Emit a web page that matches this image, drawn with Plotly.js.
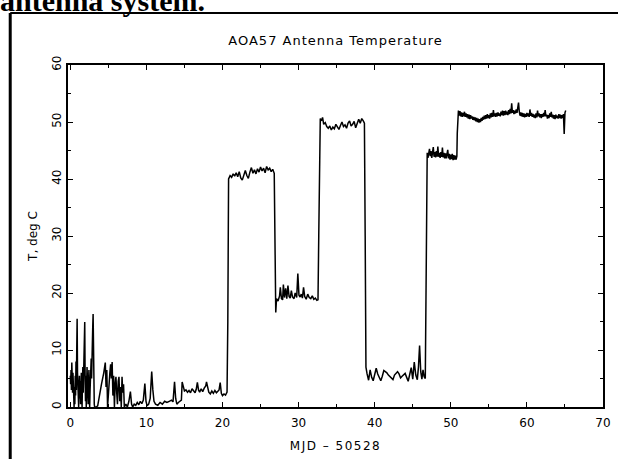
<!DOCTYPE html>
<html>
<head>
<meta charset="utf-8">
<script src="https://cdn.plot.ly/plotly-3.0.1.min.js"></script>
<style>
html, body { margin: 0; padding: 0; background: #fff; }
#chart { width: 618px; height: 459px; }
.gtitle { letter-spacing: 1px; }
.xtitle { letter-spacing: 1.5px; }
</style>
</head>
<body>
<div id="chart"></div>
<script>
// MJD - 50528 (days)
const mjdLow = [0.00,0.05,0.10,0.15,0.20,0.25,0.30,0.35,0.40,0.45,0.50,0.55,0.60,0.65,0.70,0.75,0.80,0.85,0.90,0.95,1.00,1.05,1.10,1.15,1.20,1.25,1.30,1.35,1.40,1.45,1.50,1.55,1.60,1.65,1.70,1.75,1.80,1.85,1.90,1.95,2.00,2.05,2.10,2.15,2.20,2.25,2.30,2.35,2.40,2.45,2.50,2.55,2.60,2.65,2.70,2.75,2.80,2.85,2.90,2.95,3.00,3.05,3.10,3.15,3.2,3.4,3.6,3.8,4.1,4.4,4.6,4.7,4.8,4.9,5.0,5.1,5.2,5.3,5.4,5.5,5.6,5.7,5.8,5.9,6.0,6.1,6.2,6.3,6.4,6.5,6.6,6.7,6.8,6.9,7.0,7.1,7.3,7.5,7.7,7.9,8.05,8.2,8.4,8.6,8.8,9.0,9.2,9.4,9.6,9.8,9.95,10.1,10.3,10.5,10.7,10.85,11.0,11.2,11.5,11.8,12.1,12.4,12.7,13.0,13.3,13.5,13.7,13.85,14.0,14.2,14.5,14.6,14.7,14.85,15.0,15.2,15.4,15.6,15.8,16.0,16.2,16.4,16.55,16.7,16.85,17.0,17.2,17.4,17.6,17.8,17.9,18.05,18.2,18.4,18.6,18.8,19.0,19.2,19.4,19.55,19.7,19.85,20.0,20.2,20.4,20.6];
const tempLow = [5.5,4.0,6.5,3.0,7.8,5.0,2.5,6.0,1.0,4.5,0.0,3.5,0.5,5.5,2.0,8.0,3.0,10.0,15.5,6.0,1.0,4.0,0.0,3.0,5.5,1.5,4.5,0.5,3.5,6.0,2.0,0.0,4.0,7.0,2.5,6.5,9.0,13.0,14.9,5.0,1.0,5.5,0.0,3.5,7.0,2.0,5.0,0.5,4.0,6.5,1.5,0.0,3.0,7.5,4.0,8.5,5.0,11.0,9.0,14.0,16.3,8.0,3.0,0.5,0,0,0.2,2,4,6,7.8,3.5,6.5,0,2.5,4.5,6,7.5,5,7.9,2,5.5,0,4,5.3,2.5,0.5,4.5,5.3,1,3.5,0,5.3,2.5,4.0,0,0.5,0,1,2.7,0.5,0,0.5,0.3,0.8,0.4,1,0.6,1.2,4.1,1,0.2,0.5,1.5,6.2,3,1,0.5,0.3,0.8,0.5,1,0.8,1,1.2,0.9,4.4,1.5,0.5,0.8,1.0,1.2,4.4,3.5,2.8,3.0,2.6,2.9,2.5,3.2,2.8,2.5,3.1,4.3,3.0,2.6,3.2,2.7,3.3,3.7,4.4,3.2,2.6,2.3,2.8,2.4,2.9,2.5,2.7,3.0,4.3,2.4,2.0,2.3,2.1,2.6];

const mjdMid = [20.7,20.8,21.0,21.2,21.4,21.6,21.8,22.0,22.2,22.4,22.6,22.8,23.0,23.2,23.4,23.6,23.8,24.0,24.2,24.4,24.6,24.8,25.0,25.2,25.4,25.6,25.8,26.0,26.2,26.4,26.6,26.8,26.9,27.0,27.1,27.3,27.5,27.6,27.75,27.9,28.0,28.15,28.3,28.45,28.6,28.75,28.9,29.05,29.2,29.4,29.55,29.75,29.9,30.05,30.2,30.35,30.5,30.65,30.8,31.0,31.2,31.4,31.6,31.8,32.0,32.2,32.4,32.55,32.65,32.75,32.85,33.0,33.15,33.3,33.5,33.7,33.9,34.1,34.3,34.5,34.7,34.9,35.1,35.3,35.5,35.7,35.9,36.1,36.3,36.5,36.7,36.9,37.1,37.3,37.5,37.7,37.9,38.1,38.3,38.5,38.65,38.75];
const tempMid = [15,40.0,40.6,40.3,40.9,40.5,41.1,40.4,41.3,40.2,39.8,40.7,41.5,40.6,40.1,41.2,42.0,41.0,41.6,40.9,41.8,41.2,42.1,41.4,41.9,41.1,42.2,41.6,41.9,41.3,41.7,41.0,25,16.6,19.0,18.6,19.5,21.0,19.0,18.8,21.5,19.2,20.8,19.0,21.3,19.4,19.1,20.4,19.3,19.0,20.0,19.2,23.4,19.6,19.3,19.8,19.1,21.0,19.4,18.9,19.8,19.2,19.0,19.5,18.9,19.1,18.7,18.8,30,47.5,50.6,50.2,50.8,49.6,49.9,49.2,48.9,49.3,48.6,49.1,48.8,49.6,49.0,48.7,49.4,50.0,49.2,49.5,48.9,49.8,50.2,49.3,49.6,50.1,49.0,49.7,50.5,49.8,50.6,50.2,49.8,30];

const mjdHigh = [38.85,39.0,39.2,39.4,39.6,39.8,40.0,40.2,40.4,40.6,40.8,41.0,41.2,41.4,41.6,41.8,42.0,42.2,42.4,42.6,42.8,43.0,43.2,43.4,43.6,43.8,44.0,44.2,44.4,44.6,44.8,45.0,45.2,45.4,45.6,45.75,45.9,46.05,46.2,46.35,46.5,46.65,46.75,46.85,46.9,47.0,47.1,47.2,47.3,47.4,47.5,47.6,47.7,47.8,47.9,48.0,48.1,48.2,48.3,48.4,48.5,48.6,48.7,48.8,48.9,49.0,49.1,49.2,49.3,49.4,49.5,49.6,49.7,49.8,49.9,50.0,50.1,50.2,50.3,50.4,50.5,50.6,50.7,50.8,50.85];
const tempHigh = [7.0,5.8,4.7,6.5,5.2,4.6,5.5,6.8,5.8,5.2,4.6,5.4,6.4,6.2,6.0,5.6,5.3,5.0,4.8,5.6,5.9,6.2,5.8,5.1,5.4,5.6,5.9,5.2,4.5,5.7,6.9,4.9,7.9,5.6,4.8,7.0,10.8,6.2,4.9,6.5,5.3,5.0,25,43.8,44.6,43.7,44.8,45.3,44.0,44.9,43.7,44.8,45.6,43.9,44.7,43.8,44.9,43.9,45.7,43.9,44.6,43.7,44.7,43.9,45.5,43.8,44.6,43.6,44.5,43.6,44.4,45.1,43.6,44.4,43.4,44.3,43.5,44.4,43.3,44.2,43.4,44.1,43.4,44.0,48];

const mjdTop = [50.9,51.0,51.1,51.2,51.3,51.4,51.5,51.6,51.7,51.8,51.9,52.0,52.1,52.2,52.3,52.4,52.5,52.6,52.7,52.8,52.9,53.0,53.1,53.2,53.3,53.4,53.5,53.6,53.7,53.8,53.9,54.0,54.1,54.2,54.3,54.4,54.5,54.6,54.7,54.8,54.9,55.0,55.1,55.2,55.3,55.4,55.5,55.6,55.7,55.8,55.9,56.0,56.1,56.2,56.3,56.4,56.5,56.6,56.7,56.8,56.9,57.0,57.1,57.2,57.3,57.4,57.5,57.6,57.7,57.8,57.9,58.0,58.1,58.2,58.3,58.4,58.5,58.6,58.7,58.8,58.9,59.0,59.1,59.2,59.3,59.4,59.5,59.6,59.7,59.8,59.9,60.0,60.1,60.2,60.3,60.4,60.5,60.6,60.7,60.8,60.9,61.0,61.1,61.2,61.3,61.4,61.5,61.6,61.7,61.8,61.9,62.0,62.1,62.2,62.3,62.4,62.5,62.6,62.7,62.8,62.9,63.0,63.1,63.2,63.3,63.4,63.5,63.6,63.7,63.8,63.9,64.0,64.1,64.2,64.3,64.4,64.5,64.6,64.7,64.8,64.9,65.0,65.1];
const tempTop = [51.4,52.0,51.1,51.9,51.0,51.7,50.9,51.6,51.0,51.8,50.9,51.5,50.8,51.4,50.6,51.3,50.5,51.2,50.6,51.0,50.4,50.9,50.3,50.8,50.1,50.7,50.0,50.6,49.9,50.5,50.0,50.7,50.2,50.9,50.4,51.1,50.5,51.2,50.6,51.4,50.7,51.2,50.6,51.5,50.8,51.6,50.9,52.1,51.0,51.5,50.9,51.6,51.0,51.7,51.1,51.5,51.0,51.8,51.2,52.0,51.1,51.9,51.2,52.0,51.3,51.8,51.2,52.1,51.4,52.3,51.5,53.3,51.6,52.1,51.4,52.0,51.5,52.2,51.6,52.4,53.4,51.8,51.1,51.7,51.0,51.6,50.9,51.5,50.8,51.4,50.9,51.6,51.0,51.5,50.9,52.2,51.1,51.6,50.9,51.4,50.8,51.3,50.7,51.5,50.8,52.0,51.0,51.5,50.8,51.4,50.7,51.4,50.9,51.6,51.0,52.1,51.0,51.3,50.6,51.2,50.7,51.5,50.9,51.8,50.8,51.3,50.6,51.2,50.5,51.3,50.7,51.1,50.6,51.4,50.7,51.3,50.6,51.2,50.7,51.4,47.9,51.6,52.0];

const mjd = mjdLow.concat(mjdMid, mjdHigh, mjdTop);
const temp = tempLow.concat(tempMid, tempHigh, tempTop);

const xTicks = [0, 10, 20, 30, 40, 50, 60, 70];
const yTicks = [0, 10, 20, 30, 40, 50, 60];

const FONT = 'DejaVu Sans, sans-serif';

const trace = {
  x: mjd, y: temp, type: 'scatter', mode: 'lines',
  line: { color: '#000', width: 1.5 },
  hoverinfo: 'skip'
};

const axisCommon = {
  showline: true, linecolor: '#000', linewidth: 2, mirror: 'ticks',
  ticks: 'inside', ticklen: 5, tickwidth: 1, tickcolor: '#000',
  showgrid: false, zeroline: false,
  tickfont: { family: FONT, size: 12, color: '#000' },
  minor: { ticks: 'inside', ticklen: 3, tickwidth: 1, tickcolor: '#000', dtick: 5, showgrid: false }
};

const layout = {
  width: 618, height: 459,
  margin: { l: 68, r: 15, t: 65, b: 52 },
  paper_bgcolor: '#fff', plot_bgcolor: '#fff',
  showlegend: false,
  title: {
    text: 'AOA57 Antenna Temperature',
    font: { family: FONT, size: 13, color: '#000' },
    x: 0.5, xref: 'paper', xanchor: 'center',
    y: 1 - 40 / 459, yref: 'container', yanchor: 'middle'
  },
  xaxis: Object.assign({}, axisCommon, {
    range: [-0.3, 70], tickvals: xTicks, ticktext: xTicks.map(String), ticklabelstandoff: 4,
    title: { text: 'MJD \u2013 50528', font: { family: FONT, size: 12, color: '#000' }, standoff: 12 }
  }),
  yaxis: Object.assign({}, axisCommon, {
    range: [0, 60], tickvals: yTicks, ticktext: yTicks.map(String), tickangle: -90,
    title: { text: 'T, deg C', font: { family: FONT, size: 12, color: '#000' }, standoff: 10 }
  }),
  shapes: [
    { type: 'line', xref: 'paper', yref: 'paper', x0: -0.108, x1: 1.04, y0: 1.152, y1: 1.152, line: { color: '#000', width: 2 } },
    { type: 'line', xref: 'paper', yref: 'paper', x0: -0.108, x1: -0.108, y0: 1.152, y1: -0.16, line: { color: '#000', width: 3 } }
  ],
  annotations: [
    { text: '<b>antenna system.</b>', xref: 'paper', yref: 'paper', x: -0.13, y: 1.19, xanchor: 'left', yanchor: 'middle',
      showarrow: false, font: { family: 'Liberation Serif, serif', size: 30, color: '#000' } }
  ]
};

Plotly.newPlot('chart', [trace], layout, { staticPlot: true, displayModeBar: false });
</script>
</body>
</html>
